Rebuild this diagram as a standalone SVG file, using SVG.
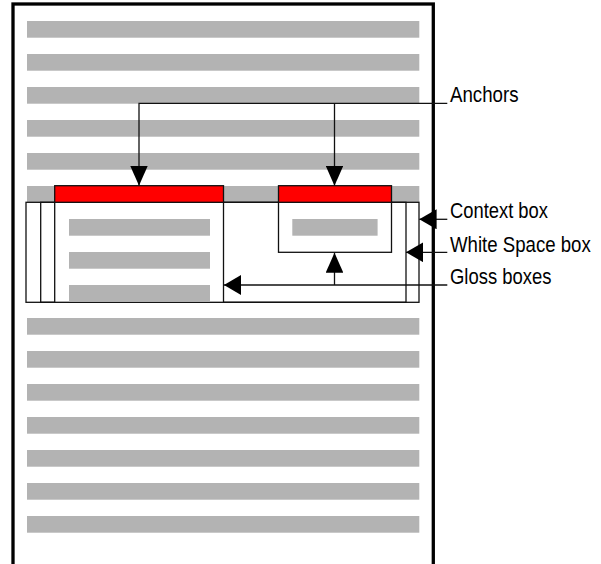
<svg xmlns="http://www.w3.org/2000/svg" width="601" height="564" viewBox="0 0 601 564">
  <style>
    .bar { fill: #b3b3b3; }
    .box { fill: none; stroke: #111; stroke-width: 1.3; }
    .gloss { fill: #fff; stroke: #111; stroke-width: 1.3; }
    .anchor { fill: #ff0000; stroke: #111; stroke-width: 1.3; }
    .wire { fill: none; stroke: #111; stroke-width: 1.3; }
    .label { font-family: "Liberation Sans", Arial, sans-serif; font-size: 22px; fill: #000; }
  </style>
  <defs>
    <!-- arrowhead for vertical connectors: 20 long, 17.6 wide -->
    <marker id="head-v" markerUnits="userSpaceOnUse" markerWidth="20" markerHeight="17.6" refX="20" refY="8.8" orient="auto">
      <path d="M0,0 L20,8.8 L0,17.6 Z" fill="#000"/>
    </marker>
    <!-- arrowhead for horizontal connectors: 17.3 long, 20 wide -->
    <marker id="head-h" markerUnits="userSpaceOnUse" markerWidth="17.3" markerHeight="20" refX="17.3" refY="10" orient="auto">
      <path d="M0,0 L17.3,10 L0,20 Z" fill="#000"/>
    </marker>
  </defs>

  <rect width="601" height="564" fill="#fff"/>

  <!-- page with text lines -->
  <g id="page">
    <rect x="13" y="4" width="420.3" height="620" fill="#fff" stroke="#000" stroke-width="3.3"/>
    <rect class="bar" x="27" y="21" width="392.3" height="16.7"/>
    <rect class="bar" x="27" y="54" width="392.3" height="16.7"/>
    <rect class="bar" x="27" y="87" width="392.3" height="16.7"/>
    <rect class="bar" x="27" y="120" width="392.3" height="16.7"/>
    <rect class="bar" x="27" y="153" width="392.3" height="16.7"/>
    <rect class="bar" x="27" y="186" width="392.3" height="16.3"/>
    <rect class="bar" x="27" y="318" width="392.3" height="16.7"/>
    <rect class="bar" x="27" y="351" width="392.3" height="16.7"/>
    <rect class="bar" x="27" y="384" width="392.3" height="16.7"/>
    <rect class="bar" x="27" y="417" width="392.3" height="16.7"/>
    <rect class="bar" x="27" y="450" width="392.3" height="16.7"/>
    <rect class="bar" x="27" y="483" width="392.3" height="16.7"/>
    <rect class="bar" x="27" y="516" width="392.3" height="16.7"/>
  </g>

  <!-- context box and white space box -->
  <g id="context-box">
    <rect class="box" x="26" y="202.3" width="393" height="100"/>
  </g>
  <g id="whitespace-box">
    <rect class="box" x="40.7" y="202.3" width="365.3" height="100"/>
  </g>

  <!-- gloss boxes -->
  <g id="gloss-left">
    <rect class="gloss" x="54.7" y="202.3" width="168.8" height="100"/>
    <rect class="bar" x="69" y="219" width="141" height="16.7"/>
    <rect class="bar" x="69" y="252" width="141" height="16.7"/>
    <rect class="bar" x="69" y="285" width="141" height="16.7"/>
  </g>
  <g id="gloss-right">
    <rect class="gloss" x="278.5" y="202.3" width="113" height="50"/>
    <rect class="bar" x="292.3" y="219" width="85.3" height="16.7"/>
  </g>

  <!-- anchors -->
  <g id="anchor-left">
    <rect class="anchor" x="54.7" y="185.7" width="168.8" height="16.6"/>
  </g>
  <g id="anchor-right">
    <rect class="anchor" x="278.5" y="185.7" width="113" height="16.6"/>
  </g>

  <!-- connectors -->
  <g id="connectors">
    <path class="wire" d="M447.3,103.3 H139 V185.7" marker-end="url(#head-v)"/>
    <path class="wire" d="M334.5,103.3 V185.7" marker-end="url(#head-v)"/>
    <path class="wire" d="M447.3,219.3 H419.3" marker-end="url(#head-h)"/>
    <path class="wire" d="M447.3,252.3 H406" marker-end="url(#head-h)"/>
    <path class="wire" d="M447.3,285 H223.8" marker-end="url(#head-h)"/>
    <path class="wire" d="M334.5,285 V252.8" marker-end="url(#head-v)"/>
  </g>

  <!-- labels, set in a horizontally condensed face -->
  <g id="labels">
    <text class="label" transform="translate(450,102.3) scale(0.85,1)">Anchors</text>
    <text class="label" transform="translate(450,218.3) scale(0.835,1)">Context box</text>
    <text class="label" transform="translate(450,251.6) scale(0.847,1)">White Space box</text>
    <text class="label" transform="translate(450,284) scale(0.84,1)">Gloss boxes</text>
  </g>
</svg>
